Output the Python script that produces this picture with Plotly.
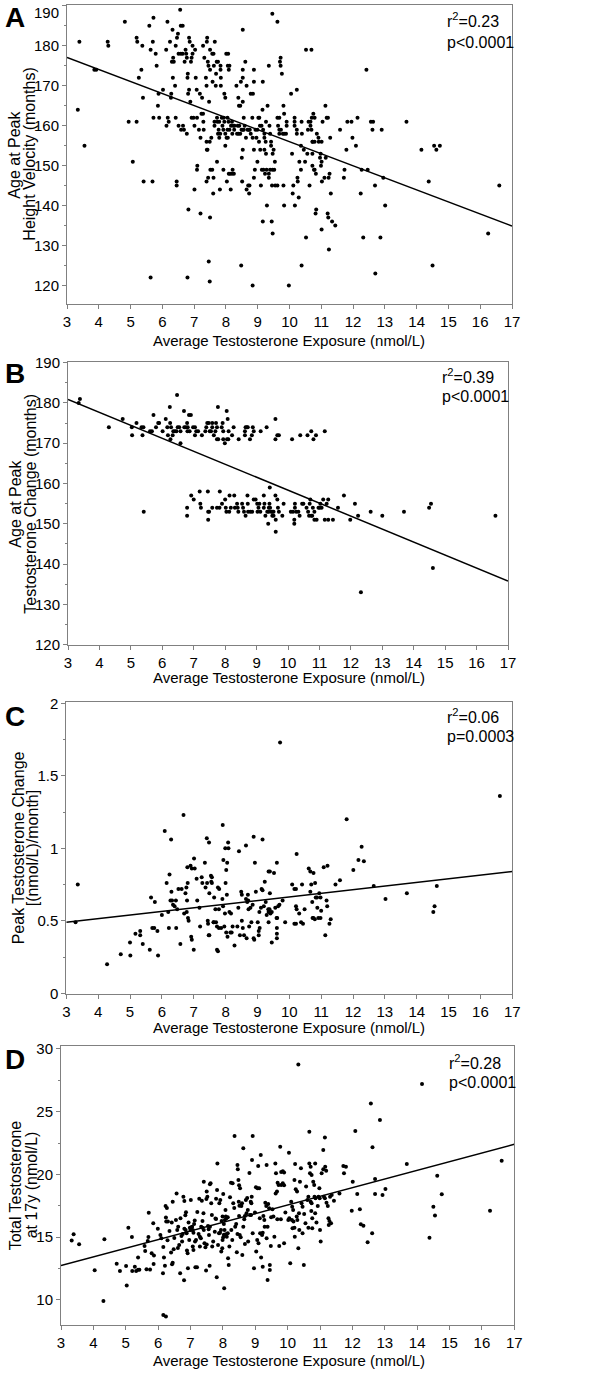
import plotly.graph_objects as go

W, H = 600, 1378
FONT = "Liberation Sans, Arial, sans-serif"
GRAY = "#808080"

# x = average testosterone exposure (nmol/L), shared by all four panels
fit_x = [3, 17]

# Panel A: age at peak height velocity (months)
a_pts = [
    (3.34, 164), (3.39, 181), (3.55, 155), (3.86, 174), (3.92, 174), (4.28, 181), (4.30, 180), (4.82, 186),
    (4.94, 161), (5.07, 151), (5.19, 182), (5.21, 181), (5.19, 161), (5.26, 172), (5.34, 174), (5.37, 180),
    (5.39, 167), (5.41, 146), (5.59, 185), (5.63, 179), (5.63, 122), (5.69, 146), (5.70, 181), (5.72, 187),
    (5.72, 162), (5.79, 178), (5.82, 175), (5.86, 165), (5.88, 168), (5.90, 162),
    (6.02, 169), (6.12, 179), (6.13, 160), (6.16, 186), (6.17, 162), (6.20, 161), (6.24, 181), (6.27, 167),
    (6.28, 168), (6.30, 176), (6.34, 177), (6.33, 172), (6.36, 176), (6.32, 184), (6.40, 170), (6.42, 180),
    (6.46, 182), (6.42, 162), (6.45, 146), (6.45, 145), (6.49, 183), (6.51, 178), (6.51, 160), (6.56, 189),
    (6.58, 185), (6.64, 185), (6.58, 178), (6.64, 178), (6.59, 159), (6.65, 160), (6.68, 159), (6.70, 176),
    (6.73, 179), (6.75, 178), (6.77, 177), (6.77, 158), (6.79, 172), (6.80, 173), (6.81, 168), (6.84, 169),
    (6.84, 182), (6.86, 181), (6.88, 166), (6.90, 176), (6.92, 177), (6.95, 178), (6.82, 139), (6.79, 122),
    (6.92, 162), (6.98, 162), (6.95, 180),
    (7.03, 179), (7.01, 160), (7.01, 144), (7.05, 172), (7.08, 169), (7.09, 149), (7.10, 150), (7.09, 162),
    (7.15, 159), (7.18, 168), (7.20, 157), (7.20, 138), (7.23, 163), (7.28, 163), (7.25, 167), (7.28, 180),
    (7.29, 161), (7.30, 159), (7.32, 177), (7.37, 172), (7.40, 181), (7.41, 182), (7.39, 170), (7.39, 156),
    (7.40, 154), (7.42, 154), (7.39, 146), (7.43, 176), (7.45, 175), (7.44, 147), (7.46, 126), (7.47, 166),
    (7.49, 121), (7.50, 174), (7.50, 179), (7.50, 137), (7.51, 149), (7.57, 149), (7.49, 156), (7.54, 157),
    (7.57, 178), (7.61, 178), (7.58, 171), (7.60, 143), (7.61, 147), (7.62, 175), (7.64, 160), (7.64, 161),
    (7.65, 181), (7.68, 170), (7.69, 173), (7.71, 176), (7.75, 176), (7.72, 162), (7.72, 151), (7.73, 161),
    (7.79, 161), (7.75, 158), (7.82, 158), (7.77, 159), (7.79, 157), (7.81, 144), (7.83, 175), (7.83, 174),
    (7.84, 172), (7.84, 170), (7.87, 162), (7.89, 160), (7.92, 159), (7.95, 161), (7.93, 162), (7.92, 149),
    (7.95, 168), (7.98, 167), (7.98, 155), (7.98, 158),
    (8.02, 157), (8.01, 178), (8.07, 178), (8.03, 146), (8.05, 159), (8.11, 159), (8.05, 162), (8.08, 161),
    (8.06, 175), (8.11, 175), (8.06, 157), (8.09, 148), (8.13, 148), (8.19, 148), (8.25, 148), (8.09, 174),
    (8.15, 144), (8.21, 149), (8.16, 160), (8.23, 160), (8.27, 160), (8.20, 158), (8.19, 161), (8.26, 159),
    (8.33, 170), (8.35, 158), (8.40, 158), (8.45, 158), (8.39, 167), (8.41, 165), (8.45, 165), (8.37, 160),
    (8.42, 160), (8.47, 171), (8.49, 159), (8.53, 159), (8.56, 159), (8.50, 152), (8.53, 154), (8.48, 125),
    (8.51, 146), (8.53, 184), (8.53, 174), (8.53, 166), (8.53, 172), (8.56, 162), (8.59, 160), (8.61, 176),
    (8.63, 157), (8.65, 170), (8.68, 159), (8.72, 159), (8.75, 159), (8.65, 144), (8.70, 145), (8.73, 143),
    (8.74, 145), (8.78, 168), (8.85, 168), (8.78, 158), (8.84, 157), (8.83, 162), (8.88, 147), (8.88, 174),
    (8.88, 171), (8.88, 154), (8.84, 120), (8.91, 149), (8.93, 159), (8.99, 159), (8.96, 157), (8.99, 151),
    (9.02, 162), (9.05, 162), (9.04, 156), (9.07, 160), (9.12, 160), (9.10, 145), (9.08, 154), (9.13, 149),
    (9.18, 149), (9.15, 164), (9.16, 171), (9.16, 136), (9.17, 159), (9.21, 158), (9.21, 157), (9.25, 156),
    (9.21, 154), (9.26, 153), (9.23, 148), (9.28, 149), (9.35, 148), (9.39, 149), (9.26, 161), (9.29, 140),
    (9.31, 165), (9.35, 175), (9.35, 147), (9.37, 160), (9.39, 158), (9.42, 156), (9.42, 155), (9.44, 136),
    (9.47, 133), (9.45, 145), (9.55, 145), (9.47, 153), (9.50, 154), (9.47, 149), (9.52, 149), (9.54, 151),
    (9.46, 188), (9.62, 186), (9.62, 145), (9.62, 162), (9.68, 162), (9.64, 160), (9.68, 159), (9.68, 158),
    (9.70, 176), (9.72, 177), (9.72, 175), (9.73, 159), (9.76, 173), (9.79, 158), (9.83, 158), (9.81, 165),
    (9.83, 140), (9.81, 145), (9.83, 163), (9.91, 161), (9.91, 160), (9.89, 158), (9.98, 120),
    (10.05, 168), (10.08, 153), (10.10, 143), (10.12, 145), (10.16, 162), (10.16, 161), (10.16, 160),
    (10.17, 140), (10.23, 169), (10.23, 159), (10.23, 158), (10.25, 147), (10.26, 146), (10.29, 142),
    (10.31, 151), (10.36, 155), (10.36, 149), (10.38, 125), (10.38, 161), (10.39, 158), (10.45, 154),
    (10.49, 151), (10.52, 179), (10.69, 179), (10.52, 132), (10.56, 153), (10.58, 159), (10.60, 161),
    (10.66, 161), (10.70, 162), (10.63, 145), (10.66, 160), (10.69, 159), (10.72, 156), (10.73, 156),
    (10.79, 156), (10.72, 153), (10.72, 150), (10.77, 149), (10.79, 149), (10.75, 163), (10.79, 162),
    (10.83, 148), (10.82, 138), (10.84, 139), (10.86, 158), (10.91, 157), (10.92, 156), (11.01, 156),
    (10.96, 152), (10.98, 153), (10.99, 150), (11.01, 151), (11.01, 134), (11.02, 146), (11.04, 161),
    (11.10, 147), (11.13, 165), (11.14, 152), (11.17, 162), (11.21, 162), (11.20, 138), (11.22, 137),
    (11.23, 147), (11.24, 129), (11.26, 148), (11.28, 157), (11.30, 143), (11.34, 136), (11.44, 135),
    (11.59, 159), (11.71, 147), (11.73, 149), (11.79, 154), (11.82, 161), (11.95, 161), (11.98, 157),
    (12.09, 155), (12.14, 162), (12.24, 143), (12.27, 149), (12.32, 132), (12.42, 174), (12.46, 149),
    (12.56, 161), (12.63, 161), (12.61, 159), (12.69, 145), (12.70, 123), (12.86, 132), (12.90, 159),
    (12.95, 147), (13.01, 140), (13.68, 161), (14.15, 154), (14.38, 146), (14.50, 125), (14.55, 155),
    (14.62, 154), (14.73, 155), (16.25, 133), (16.60, 145),
]
a_fit = [177.1, 134.9]

# Panel B: age at peak testosterone change (months)
b_pts = [
    (3.34, 180), (3.38, 181), (4.30, 174), (4.74, 176), (5.03, 174), (5.04, 172), (5.18, 175), (5.34, 174),
    (5.40, 174), (5.37, 172), (5.41, 153), (5.61, 173), (5.67, 173), (5.72, 177), (5.80, 174), (5.87, 175),
    (5.90, 175), (6.01, 173), (6.11, 176), (6.16, 174), (6.18, 172), (6.24, 179), (6.25, 175), (6.26, 171),
    (6.28, 174), (6.33, 172), (6.35, 173), (6.40, 173), (6.45, 173), (6.49, 174), (6.47, 182), (6.54, 174),
    (6.58, 173), (6.58, 170), (6.69, 178), (6.70, 174), (6.75, 174), (6.81, 174), (6.80, 173), (6.79, 154),
    (6.79, 152), (6.79, 175), (6.85, 177), (6.91, 177), (6.87, 173), (6.92, 157), (6.98, 174), (7.04, 174),
    (7.00, 156), (7.04, 172), (7.08, 173), (7.14, 173), (7.19, 158), (7.21, 155), (7.23, 154), (7.26, 172),
    (7.37, 173), (7.40, 174), (7.43, 175), (7.48, 175), (7.51, 173), (7.45, 158), (7.46, 153), (7.46, 151),
    (7.49, 153), (7.55, 173), (7.59, 174), (7.59, 175), (7.59, 154), (7.64, 172), (7.69, 173), (7.74, 171),
    (7.78, 171), (7.71, 175), (7.74, 174), (7.77, 179), (7.74, 154), (7.82, 154), (7.83, 158), (7.89, 174),
    (7.92, 175), (7.94, 173), (7.90, 155), (7.94, 171), (7.99, 170), (8.06, 171), (8.10, 171), (8.00, 156),
    (8.02, 154), (8.04, 153), (8.05, 178), (8.08, 176), (8.11, 173), (8.13, 153), (8.18, 154), (8.14, 157),
    (8.22, 172), (8.27, 174), (8.29, 157), (8.31, 154), (8.38, 155), (8.40, 154), (8.42, 153), (8.43, 171),
    (8.54, 155), (8.57, 154), (8.60, 153), (8.65, 152), (8.63, 173), (8.65, 174), (8.69, 174), (8.72, 174),
    (8.63, 172), (8.71, 157), (8.72, 155), (8.73, 153), (8.79, 171), (8.80, 153), (8.86, 153), (8.85, 172),
    (8.91, 173), (8.88, 174), (8.91, 156), (8.97, 156), (9.02, 155), (9.03, 153), (9.06, 154), (9.09, 155),
    (9.12, 153), (9.13, 173), (9.23, 157), (9.23, 154), (9.25, 155), (9.28, 152), (9.32, 174), (9.34, 153),
    (9.39, 153), (9.43, 154), (9.47, 153), (9.37, 150), (9.41, 155), (9.39, 154), (9.42, 159), (9.50, 153),
    (9.54, 153), (9.50, 152), (9.54, 152), (9.60, 176), (9.60, 171), (9.60, 157), (9.61, 151), (9.61, 148),
    (9.66, 172), (9.71, 172), (9.66, 156), (9.68, 154), (9.71, 153), (9.82, 152), (9.86, 155), (10.09, 153),
    (10.16, 153), (10.26, 153), (10.13, 171), (10.20, 151), (10.20, 150), (10.22, 155), (10.22, 154),
    (10.33, 153), (10.37, 152), (10.39, 172), (10.45, 155), (10.49, 155), (10.59, 154), (10.64, 153),
    (10.62, 172), (10.67, 152), (10.71, 156), (10.69, 155), (10.74, 173), (10.74, 152), (10.77, 152),
    (10.79, 154), (10.84, 153), (10.81, 171), (10.84, 151), (10.91, 151), (10.89, 172), (10.97, 154),
    (11.01, 154), (11.07, 154), (11.03, 155), (11.12, 156), (11.28, 156), (11.17, 173), (11.17, 151),
    (11.28, 151), (11.43, 151), (11.23, 155), (11.59, 154), (11.78, 157), (11.98, 151), (12.13, 155),
    (12.23, 152), (12.32, 133), (12.63, 153), (13.00, 152), (13.69, 153), (14.49, 154), (14.55, 155),
    (14.61, 139), (16.60, 152),
]
b_fit = [180.9, 135.8]

# Panel C: peak testosterone change ((nmol/L)/month)
c_pts = [
    (3.29, 0.49), (3.36, 0.75), (4.28, 0.20), (4.71, 0.27), (5.00, 0.35), (5.01, 0.26), (5.17, 0.41),
    (5.32, 0.43), (5.32, 0.40), (5.40, 0.34), (5.62, 0.30), (5.66, 0.66), (5.70, 0.45), (5.76, 0.45),
    (5.78, 0.63), (5.88, 0.26), (5.86, 0.43), (6.00, 0.54), (6.09, 1.12), (6.15, 0.76), (6.20, 0.56),
    (6.22, 0.45), (6.24, 0.82), (6.27, 0.64), (6.32, 0.64), (6.29, 1.06), (6.30, 0.70), (6.35, 0.61),
    (6.40, 0.60), (6.44, 0.64), (6.45, 0.45), (6.48, 0.58), (6.52, 0.72), (6.62, 0.72), (6.58, 0.34),
    (6.68, 1.23), (6.70, 0.55), (6.74, 0.69), (6.77, 0.73), (6.78, 0.56), (6.79, 0.64), (6.80, 0.87),
    (6.81, 0.76), (6.82, 0.52), (6.84, 0.50), (6.90, 0.88), (6.92, 0.39), (6.94, 0.37), (6.94, 0.86),
    (7.00, 0.30), (7.01, 0.93), (7.03, 0.86), (7.09, 0.79), (7.11, 0.64), (7.18, 0.59), (7.20, 0.46),
    (7.25, 0.80), (7.27, 0.76), (7.35, 0.90), (7.37, 0.73), (7.42, 0.76), (7.41, 1.07), (7.48, 1.04),
    (7.44, 0.50), (7.45, 0.48), (7.47, 0.40), (7.49, 0.40), (7.49, 0.69), (7.54, 0.81), (7.57, 0.80),
    (7.55, 0.77), (7.57, 0.76), (7.62, 0.49), (7.63, 0.49), (7.64, 0.66), (7.68, 0.58), (7.70, 0.49),
    (7.73, 0.46), (7.79, 0.45), (7.73, 0.30), (7.76, 0.29), (7.76, 0.73), (7.79, 0.58), (7.80, 0.72),
    (7.86, 0.45), (7.90, 0.65), (7.92, 0.60), (7.91, 1.16), (7.93, 0.92), (7.96, 0.46), (8.02, 0.42),
    (7.98, 0.55), (7.99, 1.00), (8.00, 0.76), (8.02, 0.85), (8.04, 0.68), (8.05, 0.90), (8.06, 0.39),
    (8.08, 1.04), (8.09, 1.00), (8.12, 0.56), (8.17, 0.55), (8.15, 0.42), (8.19, 0.42), (8.22, 0.46),
    (8.28, 0.33), (8.37, 0.46), (8.40, 0.59), (8.42, 0.98), (8.45, 0.40), (8.49, 0.70), (8.51, 0.68),
    (8.51, 0.50), (8.54, 0.45), (8.58, 0.40), (8.64, 1.02), (8.64, 0.65), (8.68, 0.63), (8.71, 0.64),
    (8.66, 0.38), (8.70, 0.68), (8.72, 0.58), (8.74, 0.46), (8.78, 0.59), (8.81, 0.49), (8.85, 0.61),
    (8.88, 1.08), (8.88, 0.38), (8.90, 0.37), (8.92, 0.90), (8.95, 0.70), (9.01, 0.49), (9.04, 0.43),
    (9.07, 0.45), (9.04, 0.40), (9.06, 0.56), (9.11, 0.59), (9.13, 0.72), (9.16, 0.71), (9.16, 1.06),
    (9.20, 0.60), (9.23, 0.77), (9.26, 0.63), (9.29, 0.54), (9.34, 0.58), (9.35, 0.56), (9.38, 0.58),
    (9.41, 0.55), (9.45, 0.56), (9.35, 0.84), (9.39, 0.84), (9.35, 0.49), (9.39, 0.69), (9.45, 0.35),
    (9.52, 0.83), (9.56, 0.59), (9.60, 0.52), (9.62, 0.52), (9.61, 0.45), (9.61, 0.41), (9.61, 0.38),
    (9.61, 0.90), (9.65, 0.60), (9.69, 0.61), (9.71, 1.73), (9.79, 0.64), (9.87, 0.49), (10.09, 0.75),
    (10.16, 0.72), (10.21, 0.72), (10.16, 0.48), (10.21, 0.48), (10.21, 0.60), (10.23, 0.96), (10.23, 0.58),
    (10.31, 0.55), (10.37, 0.49), (10.40, 0.75), (10.43, 0.48), (10.48, 0.58), (10.61, 0.86), (10.66, 0.84),
    (10.66, 0.70), (10.69, 0.75), (10.72, 0.63), (10.73, 0.52), (10.76, 0.52), (10.80, 0.51), (10.76, 0.83),
    (10.81, 0.76), (10.83, 0.66), (10.87, 0.66), (10.88, 0.59), (10.91, 0.52), (10.98, 0.52), (10.94, 0.69),
    (10.98, 0.66), (11.00, 0.57), (11.08, 0.87), (11.20, 0.88), (11.13, 0.40), (11.17, 0.64), (11.19, 0.60),
    (11.26, 0.48), (11.30, 0.51), (11.45, 0.75), (11.59, 0.78), (11.80, 1.20), (12.01, 0.85), (12.17, 0.92),
    (12.27, 1.01), (12.34, 0.91), (12.65, 0.74), (13.02, 0.65), (13.69, 0.69), (14.52, 0.56), (14.56, 0.60),
    (14.63, 0.74), (16.61, 1.36),
]
c_fit = [0.49, 0.84]

# Panel D: total testosterone at 17y (nmol/L)
d_pts = [
    (3.33, 14.73), (3.39, 15.23), (3.56, 14.43), (4.04, 12.36), (4.31, 9.92), (4.34, 14.83), (4.72, 12.89),
    (4.82, 12.31), (5.01, 12.71), (5.03, 11.14), (5.08, 15.76), (5.19, 15.02), (5.20, 12.31), (5.28, 12.65),
    (5.32, 12.30), (5.38, 12.40), (5.42, 12.40), (5.38, 13.37), (5.58, 14.30), (5.60, 13.90), (5.64, 12.44),
    (5.71, 16.95), (5.70, 15.02), (5.68, 14.70), (5.75, 12.42), (5.80, 13.72), (5.85, 16.11), (5.86, 12.87),
    (5.87, 13.53), (5.99, 15.68), (6.07, 15.18), (6.10, 14.91), (6.15, 12.12), (6.16, 8.80), (6.24, 8.67),
    (6.16, 14.22), (6.18, 13.37), (6.21, 12.73), (6.23, 17.49), (6.27, 17.33), (6.24, 16.56), (6.25, 16.24),
    (6.30, 16.24), (6.29, 14.75), (6.35, 15.50), (6.40, 13.77), (6.42, 16.16), (6.43, 12.84), (6.45, 12.97),
    (6.45, 17.83), (6.48, 14.04), (6.50, 14.94), (6.55, 16.37), (6.57, 18.49), (6.59, 15.57), (6.62, 15.84),
    (6.61, 14.14), (6.65, 14.38), (6.68, 12.12), (6.69, 16.50), (6.72, 15.10), (6.74, 14.65), (6.76, 15.26),
    (6.78, 18.23), (6.81, 17.88), (6.80, 11.57), (6.81, 15.68), (6.85, 15.57), (6.88, 15.31), (6.84, 16.74),
    (6.86, 16.98), (6.89, 13.93), (6.91, 13.72), (6.92, 12.52), (6.94, 16.16), (6.96, 14.78), (6.98, 15.76),
    (7.00, 15.57), (7.01, 17.96), (7.03, 15.80), (7.05, 15.84), (7.07, 15.57), (7.09, 15.36), (7.07, 14.25),
    (7.09, 13.98), (7.11, 16.05), (7.13, 16.32), (7.14, 14.65), (7.17, 14.78), (7.15, 12.60), (7.20, 12.60),
    (7.21, 17.01), (7.25, 15.26), (7.29, 15.04), (7.32, 14.91), (7.27, 18.07), (7.29, 14.25), (7.33, 15.84),
    (7.37, 15.76), (7.41, 15.57), (7.35, 17.91), (7.37, 16.29), (7.40, 16.90), (7.41, 19.42), (7.43, 14.51),
    (7.46, 14.19), (7.50, 14.41), (7.48, 12.34), (7.50, 18.63), (7.52, 18.23), (7.49, 18.04), (7.54, 15.89),
    (7.56, 15.63), (7.57, 15.18), (7.59, 12.73), (7.60, 19.21), (7.62, 19.29), (7.60, 15.84), (7.64, 17.70),
    (7.66, 16.77), (7.67, 14.25), (7.70, 14.65), (7.75, 15.44), (7.77, 16.48), (7.79, 16.45), (7.79, 18.07),
    (7.81, 11.81), (7.82, 18.76), (7.83, 20.88), (7.85, 14.38), (7.88, 15.31), (7.89, 17.70), (7.92, 17.96),
    (7.91, 15.36), (7.94, 15.57), (7.96, 16.29), (7.99, 16.64), (7.95, 13.85), (7.98, 14.11), (7.99, 14.78),
    (8.01, 14.99), (8.03, 15.20), (8.03, 16.05), (8.06, 16.37), (8.09, 16.64), (8.11, 16.50), (8.15, 16.58),
    (8.01, 18.44), (8.04, 10.93), (8.05, 15.57), (8.09, 15.23), (8.08, 17.17), (8.12, 15.04), (8.15, 15.31),
    (8.16, 13.32), (8.18, 12.79), (8.20, 14.25), (8.22, 18.18), (8.25, 19.34), (8.26, 15.57), (8.29, 14.78),
    (8.30, 19.29), (8.32, 17.70), (8.35, 17.33), (8.36, 23.06), (8.38, 15.84), (8.41, 16.05), (8.45, 15.26),
    (8.43, 13.80), (8.45, 20.75), (8.46, 20.41), (8.48, 19.56), (8.50, 19.13), (8.49, 17.83), (8.51, 17.51),
    (8.50, 16.69), (8.52, 15.18), (8.55, 14.99), (8.53, 18.89), (8.57, 17.49), (8.59, 17.70), (8.60, 13.58),
    (8.63, 15.84), (8.63, 22.08), (8.66, 16.42), (8.68, 16.69), (8.68, 14.46), (8.71, 17.96), (8.75, 18.12),
    (8.73, 16.90), (8.77, 17.17), (8.78, 14.65), (8.82, 20.11), (8.84, 16.77), (8.87, 16.77), (8.86, 17.83),
    (8.89, 18.23), (8.88, 17.70), (8.90, 21.15), (8.92, 23.06), (8.92, 15.31), (8.96, 12.52), (8.99, 16.96),
    (9.02, 18.97), (9.03, 13.85), (9.06, 14.78), (9.07, 18.89), (9.12, 18.89), (9.09, 20.67), (9.10, 14.51),
    (9.15, 15.31), (9.14, 16.50), (9.17, 21.55), (9.18, 13.37), (9.21, 15.18), (9.23, 15.36), (9.23, 12.65),
    (9.25, 16.69), (9.28, 16.37), (9.29, 15.84), (9.31, 17.75), (9.34, 17.49), (9.35, 20.75), (9.35, 14.91),
    (9.38, 15.84), (9.38, 11.59), (9.40, 17.64), (9.43, 17.30), (9.45, 12.79), (9.45, 12.39), (9.48, 14.30),
    (9.49, 16.58), (9.53, 17.22), (9.56, 16.64), (9.59, 15.04), (9.62, 20.88), (9.64, 20.09), (9.63, 18.49),
    (9.67, 18.63), (9.68, 16.42), (9.69, 19.34), (9.72, 19.16), (9.74, 14.30), (9.77, 22.21), (9.79, 16.42),
    (9.80, 19.16), (9.85, 19.29), (9.89, 19.13), (9.80, 20.20), (9.85, 20.25), (9.89, 20.15), (9.89, 14.51),
    (9.93, 16.96), (10.02, 16.37), (10.05, 16.50), (10.04, 21.73), (10.08, 12.92), (10.11, 17.83),
    (10.14, 17.43), (10.17, 17.17), (10.13, 16.37), (10.18, 16.24), (10.15, 15.71), (10.21, 15.76),
    (10.21, 19.56), (10.22, 15.04), (10.23, 20.83), (10.25, 18.81), (10.29, 18.63), (10.28, 16.64),
    (10.30, 16.37), (10.33, 28.77), (10.33, 14.11), (10.35, 16.90), (10.36, 15.57), (10.38, 19.42),
    (10.41, 20.49), (10.43, 17.70), (10.46, 17.43), (10.46, 15.31), (10.50, 12.79), (10.51, 16.85),
    (10.55, 16.11), (10.57, 19.03), (10.61, 17.96), (10.64, 18.23), (10.64, 15.76), (10.67, 23.41),
    (10.67, 20.88), (10.71, 20.62), (10.69, 20.09), (10.74, 19.96), (10.71, 17.83), (10.74, 17.70),
    (10.73, 17.09), (10.76, 16.50), (10.76, 15.71), (10.79, 19.42), (10.82, 19.16), (10.83, 18.23),
    (10.86, 18.10), (10.85, 20.88), (10.85, 16.90), (10.89, 16.16), (10.93, 17.49), (10.95, 18.23),
    (10.99, 18.10), (10.98, 18.89), (11.00, 15.57), (11.02, 14.65), (11.05, 20.09), (11.10, 20.41),
    (11.10, 21.94), (11.12, 18.23), (11.15, 18.10), (11.15, 22.95), (11.16, 20.62), (11.19, 20.30),
    (11.20, 17.75), (11.24, 17.49), (11.26, 16.50), (11.29, 16.29), (11.27, 15.97), (11.34, 16.11),
    (11.31, 18.23), (11.36, 18.36), (11.43, 17.91), (11.60, 18.49), (11.72, 20.67), (11.74, 20.09),
    (11.80, 20.62), (11.98, 17.11), (12.01, 19.42), (12.09, 23.46), (12.15, 18.44), (12.23, 17.22),
    (12.26, 16.03), (12.34, 15.92), (12.47, 14.59), (12.57, 25.66), (12.61, 15.31), (12.62, 22.16),
    (12.70, 19.64), (12.70, 18.44), (12.85, 24.33), (12.93, 18.36), (13.02, 18.84), (13.68, 20.83),
    (14.15, 27.20), (14.38, 14.96), (14.50, 17.43), (14.55, 16.72), (14.62, 19.90), (14.76, 18.42),
    (16.25, 17.11), (16.61, 21.10),
]
d_fit = [12.73, 22.40]

x_title = "Average Testosterone Exposure (nmol/L)"
a_yticks = [120, 130, 140, 150, 160, 170, 180, 190]


def fx(p):
    return p / W


def fy(p):
    return 1 - p / H


# layout settings are given in page pixels (left, right, top, bottom)
panels = [
    dict(letter="A", pts=a_pts, fit=a_fit, yr=[115.3, 190.2], dt=10, t0=120,
         box=(67, 512, 5, 304.3), ytitle=[("Age at Peak", 15), ("Height Velocity (months)", 30)],
         stats=["r<sup>2</sup>=0.23", "p<0.0001"], sx=445, sy=(20, 42), ly=17.5, xt=340),
    dict(letter="B", pts=b_pts, fit=b_fit, yr=[119.9, 190.1], dt=10, t0=120,
         box=(68, 508, 362.3, 645), ytitle=[("Age at Peak", 16), ("Testosterone Change (months)", 31)],
         stats=["r<sup>2</sup>=0.39", "p<0.0001"], sx=440, sy=(376, 397), ly=373, xt=677),
    dict(letter="C", pts=c_pts, fit=c_fit, yr=[-0.007, 2.007], dt=0.5, t0=0,
         box=(66.3, 512.3, 702.3, 994.3), ytitle=[("Peak Testosterone Change", 18), ("[(nmol/L)/month]", 32)],
         stats=["r<sup>2</sup>=0.06", "p=0.0003"], sx=445, sy=(716, 737), ly=716, xt=1027),
    dict(letter="D", pts=d_pts, fit=d_fit, yr=[8.0, 30.26], dt=5, t0=10,
         box=(61, 514.3, 1045.7, 1325), ytitle=[("Total Testosterone", 15), ("at 17y (nmol/L)", 31)],
         stats=["r<sup>2</sup>=0.28", "p<0.0001"], sx=447, sy=(1062, 1082), ly=1059, xt=1360),
]

fig = go.Figure()
annotations = []
tick_font = dict(family=FONT, size=15, color="black")
axis_style = dict(showline=True, mirror=True, linecolor=GRAY, linewidth=1, ticks="outside",
                  ticklen=4, tickcolor=GRAY, showgrid=False, zeroline=False, automargin=False,
                  ticklabeloverflow="allow", tickfont=tick_font)

for i, p in enumerate(panels, start=1):
    sfx = "" if i == 1 else str(i)
    xa, ya = "x" + sfx, "y" + sfx
    fig.add_trace(go.Scatter(x=[q[0] for q in p["pts"]], y=[q[1] for q in p["pts"]], mode="markers",
                             marker=dict(size=4, color="black"), xaxis=xa, yaxis=ya, hoverinfo="skip"))
    fig.add_trace(go.Scatter(x=fit_x, y=p["fit"], mode="lines", line=dict(color="black", width=1.5),
                             xaxis=xa, yaxis=ya, hoverinfo="skip"))
    l, r, t, b = p["box"]
    yaxis = dict(domain=[fy(b), fy(t)], range=p["yr"], tick0=p["t0"], dtick=p["dt"], anchor=xa,
                 minor=dict(dtick=p["dt"] / 2, ticks="outside", ticklen=2, tickcolor=GRAY), **axis_style)
    if i == 1:
        # top label sits at the frame edge; it is drawn a little lower, as in the source figure
        yaxis.update(tickmode="array", tickvals=a_yticks,
                     ticktext=[str(v) for v in a_yticks[:-1]] + [""])
        annotations.append(dict(text=str(a_yticks[-1]), x=fx(61), y=fy(12), xref="paper", yref="paper",
                                showarrow=False, xanchor="right", yanchor="middle", font=tick_font))
    fig.update_layout(**{
        "xaxis" + sfx: dict(domain=[fx(l), fx(r)], range=[3, 17], tick0=3, dtick=1, anchor=ya, **axis_style),
        "yaxis" + sfx: yaxis,
    })
    ymid = fy((t + b) / 2)
    for txt, xc in p["ytitle"]:
        annotations.append(dict(text=txt, x=fx(xc), y=ymid, xref="paper", yref="paper", textangle=-90,
                                showarrow=False, xanchor="center", yanchor="middle",
                                font=dict(family=FONT, size=16, color="black")))
    annotations.append(dict(text=x_title, x=fx(289), y=fy(p["xt"]), xref="paper", yref="paper",
                            showarrow=False, xanchor="center", yanchor="middle",
                            font=dict(family=FONT, size=15, color="black")))
    annotations.append(dict(text="<b>" + p["letter"] + "</b>", x=fx(15), y=fy(p["ly"]), xref="paper",
                            yref="paper", showarrow=False, xanchor="center", yanchor="middle",
                            font=dict(family=FONT, size=28, color="black")))
    for txt, yy in zip(p["stats"], p["sy"]):
        annotations.append(dict(text=txt, x=fx(p["sx"]), y=fy(yy), xref="paper", yref="paper",
                                showarrow=False, xanchor="left", yanchor="middle",
                                font=dict(family=FONT, size=16, color="black")))

fig.update_layout(template="none", width=W, height=H, margin=dict(l=0, r=0, t=0, b=0), showlegend=False,
                  paper_bgcolor="white", plot_bgcolor="white", annotations=annotations,
                  font=dict(family=FONT, color="black"))

# the browser's default 8px body margin would shift the whole figure
fig.write_html("out.html", config={"displayModeBar": False},
               post_script="document.body.style.margin='0px';")
